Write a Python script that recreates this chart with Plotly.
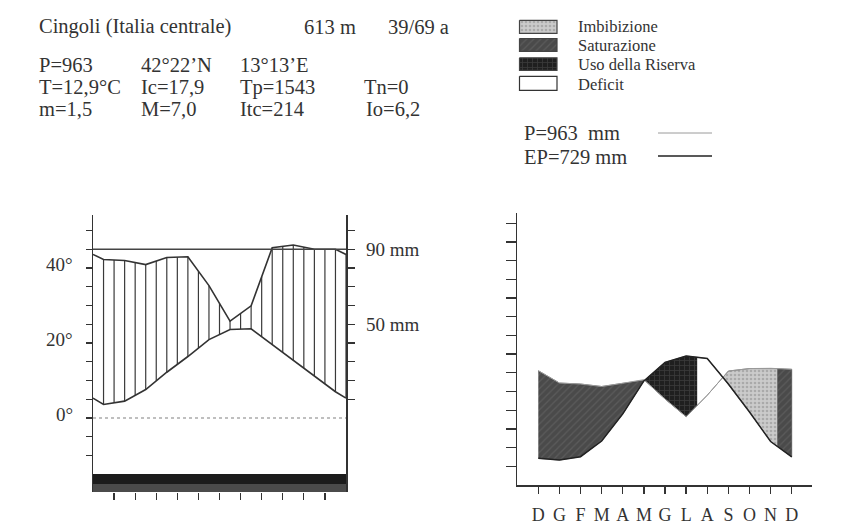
import numpy as np
import plotly.graph_objects as go

W, H = 857, 527
SERIF = "Liberation Serif"
INK = "#333333"

# ---------------- data: Walter-Lieth diagram (left) ----------------
mesi = ["G", "F", "M", "A", "M", "G", "L", "A", "S", "O", "N", "D"]
temperatura = [3.6, 4.5, 7.6, 12.2, 16.4, 20.9, 23.6, 23.8, 19.6, 15.4, 11.2, 7.0]      # °C
precipitazioni = [84.5, 84.0, 81.8, 85.6, 86.0, 70.6, 51.7, 59.8, 90.8, 92.3, 90.0, 90.0]  # mm
temp_ticks = [40, 20, 0]
prec_ticks = [90, 50]

# ---------------- data: water balance (right) ----------------
mesi_bilancio = ["D", "G", "F", "M", "A", "M", "G", "L", "A", "S", "O", "N", "D"]
P_bilancio = [91.7, 81.8, 81.0, 79.0, 81.6, 84.5, 69.0, 54.8, 72.0, 91.4, 93.4, 93.6, 92.8]
EP_bilancio = [21.4, 20.0, 22.7, 35.3, 57.0, 83.5, 98.4, 103.5, 101.5, 81.0, 58.6, 34.9, 22.5]
fine_riserva = 7.53      # month index where soil reserve is exhausted
fine_imbibizione = 11.33  # month index where recharge is complete

# ---------------- helpers ----------------
def px(x):
    return x / W

def py(y):
    return 1 - y / H

fig = go.Figure()

# ===== left chart =====
x_mid = np.arange(12) + 0.5
t_edge = (temperatura[0] + temperatura[-1]) / 2
p_edge = (precipitazioni[0] + precipitazioni[-1]) / 2
x_ext = np.concatenate([[0.0], x_mid, [12.0]])
T_ext = np.array([t_edge] + temperatura + [t_edge])
P_ext = np.array([p_edge] + precipitazioni + [p_edge])

# frost bar (whole year)
fig.add_trace(go.Bar(x=x_mid, y=[-2.6] * 12, base=-15.05, width=1.0,
                     marker=dict(color="#1c1c1c", line=dict(width=0)),
                     xaxis="x", yaxis="y", hoverinfo="skip"))
fig.add_trace(go.Bar(x=x_mid, y=[-2.45] * 12, base=-17.65, width=1.0,
                     marker=dict(color="#4b4b4b", line=dict(width=0)),
                     xaxis="x", yaxis="y", hoverinfo="skip"))

# vertical hatching (humid period), every half month
xh = np.arange(1, 25) * 0.5
th = np.interp(xh, x_ext, T_ext)
ph = np.interp(xh, x_ext, P_ext) / 2.0
hx, hy = [], []
for a, b, c in zip(xh, th, ph):
    hx += [a, a, None]
    hy += [b, c, None]
fig.add_trace(go.Scatter(x=hx, y=hy, mode="lines", line=dict(color="#3a3a3a", width=1.2),
                         xaxis="x", yaxis="y", hoverinfo="skip"))

fig.add_trace(go.Scatter(x=x_ext, y=T_ext, mode="lines", line=dict(color=INK, width=1.6),
                         xaxis="x", yaxis="y"))
fig.add_trace(go.Scatter(x=x_ext, y=P_ext, mode="lines", line=dict(color=INK, width=1.6),
                         xaxis="x", yaxis="y2"))

# ===== right chart =====
xb = np.arange(13)
Pb = np.array(P_bilancio)
Eb = np.array(EP_bilancio)

def crossing(lo, hi):
    d = Pb - Eb
    for i in range(12):
        if xb[i + 1] <= lo or xb[i] >= hi:
            continue
        if d[i] * d[i + 1] < 0:
            return xb[i] + d[i] / (d[i] - d[i + 1])
    return lo

c1 = crossing(4.5, 6)
c2 = crossing(8, 9)

def region(a, b, top, bottom):
    xs = [a] + [float(v) for v in xb if a < v < b] + [b]
    xs = np.array(xs)
    up = np.interp(xs, xb, top)
    lo = np.interp(xs, xb, bottom)
    return list(xs) + list(xs[::-1]), list(up) + list(lo[::-1])

styles = {
    "sat": dict(fillcolor="#4e4e4e",
                fillpattern=dict(shape="/", fgcolor="#6c6c6c", bgcolor="#4a4a4a", size=5, solidity=0.25)),
    "ris": dict(fillcolor="#222222",
                fillpattern=dict(shape="+", fgcolor="#555555", bgcolor="#1f1f1f", size=5, solidity=0.3)),
    "imb": dict(fillcolor="#c4c4c4",
                fillpattern=dict(shape=".", fgcolor="#8a8a8a", bgcolor="#cbcbcb", size=4, solidity=0.35)),
    "def": dict(fillcolor="#ffffff"),
}
regions = [
    (0, c1, Pb, Eb, "sat"),
    (c1, fine_riserva, Eb, Pb, "ris"),
    (fine_riserva, c2, Eb, Pb, "def"),
    (c2, fine_imbibizione, Pb, Eb, "imb"),
    (fine_imbibizione, 12, Pb, Eb, "sat"),
]
for a, b, top, bot, key in regions:
    rx, ry = region(a, b, top, bot)
    fig.add_trace(go.Scatter(x=rx, y=ry, mode="lines", fill="toself", line=dict(width=0.6, color="#444"),
                             xaxis="x3", yaxis="y3", hoverinfo="skip", **styles[key]))

fig.add_trace(go.Scatter(x=xb, y=Pb, mode="lines", line=dict(color="#9a9a9a", width=1),
                         xaxis="x3", yaxis="y3"))
fig.add_trace(go.Scatter(x=xb, y=Eb, mode="lines", line=dict(color="#222222", width=1.5),
                         xaxis="x3", yaxis="y3"))

# ===== legend (overlay axis in page pixels) =====
leg_boxes = [(20.3, 33.3, "imb"), (38.5, 51.3, "sat"), (57.8, 70.3, "ris"), (76.3, 90.3, "def")]
for y0, y1, key in leg_boxes:
    fig.add_trace(go.Scatter(x=[519.5, 557, 557, 519.5, 519.5], y=[y0, y0, y1, y1, y0],
                             mode="lines", fill="toself",
                             line=dict(color="#444" if key != "def" else "#333", width=1.2),
                             xaxis="x5", yaxis="y5", hoverinfo="skip", **styles[key]))
fig.add_trace(go.Scatter(x=[658, 712], y=[133, 133], mode="lines",
                         line=dict(color="#9a9a9a", width=1), xaxis="x5", yaxis="y5"))
fig.add_trace(go.Scatter(x=[658, 712], y=[156, 156], mode="lines",
                         line=dict(color="#222", width=1.6), xaxis="x5", yaxis="y5"))

# ---------------- axes ----------------
t_lo, t_hi = (418 - 492) / 3.75, (418 - 215) / 3.75
common = dict(showgrid=False, zeroline=False, tickcolor=INK, linecolor=INK)
fig.update_layout(
    width=W, height=H, margin=dict(l=0, r=0, t=0, b=0),
    paper_bgcolor="white", plot_bgcolor="rgba(0,0,0,0)",
    showlegend=False, barmode="overlay", bargap=0,
    xaxis=dict(domain=[px(93), px(346)], range=[0, 12], anchor="y",
               tickvals=list(range(1, 12)), ticks="outside", ticklen=7, tickwidth=1.3,
               showticklabels=False, showline=False, **common),
    yaxis=dict(domain=[py(492), py(215)], range=[t_lo, t_hi], anchor="x",
               tickvals=list(range(-10, 55, 5)), ticks="outside", ticklen=6, tickwidth=1.3,
               showticklabels=False, showline=True, linewidth=1.5, **common),
    yaxis2=dict(overlaying="y", side="right", anchor="x", range=[2 * t_lo, 2 * t_hi],
                tickvals=list(range(10, 101, 10)), ticks="outside", ticklen=7, tickwidth=1.3,
                showticklabels=False, showline=True, linewidth=1.5, **common),
    xaxis3=dict(domain=[px(517), px(812)], range=[(517 - 538.3) / 21.12, (812 - 538.3) / 21.12],
                anchor="y3", tickvals=list(range(13)), ticktext=mesi_bilancio,
                ticks="outside", ticklen=7, tickwidth=1.3, showline=True, linewidth=1.5,
                tickfont=dict(family=SERIF, size=18, color=INK), ticklabelstandoff=6, **common),
    yaxis3=dict(domain=[py(485), py(213)], range=[0, (485 - 213) * 15 / 18.7], anchor="x3",
                tickvals=list(range(15, 211, 15)), ticks="outside", ticklen=10, tickwidth=1.3,
                showticklabels=False, showline=True, linewidth=1.5, **common),
    yaxis4=dict(overlaying="y3", side="right", anchor="x3", range=[0, (485 - 213) * 15 / 18.7],
                tickvals=list(range(15, 211, 15)), ticks="outside", ticklen=10, tickwidth=1.3,
                showticklabels=False, showline=True, linewidth=1.5, **common),
    xaxis5=dict(domain=[0, 1], range=[0, W], visible=False, fixedrange=True, anchor="y5"),
    yaxis5=dict(domain=[0, 1], range=[H, 0], visible=False, fixedrange=True, anchor="x5"),
)

# reference lines on the left chart
fig.add_shape(type="line", xref="x", yref="y2", x0=0, x1=12, y0=prec_ticks[0], y1=prec_ticks[0],
              line=dict(color="#444", width=1.6))
fig.add_shape(type="line", xref="x", yref="y", x0=0, x1=12, y0=0, y1=0,
              line=dict(color="#aaaaaa", width=1.3, dash="dot"))

# ---------------- text ----------------
def txt(x, y, s, size=20.5, xanchor="left", xref="x5", yref="y5", yshift=0):
    fig.add_annotation(x=x, y=y, text=s, xref=xref, yref=yref, showarrow=False,
                       xanchor=xanchor, yanchor="middle", yshift=yshift,
                       font=dict(family=SERIF, size=size, color=INK))

txt(37, 26.5, "Cingoli (Italia centrale)")
txt(302, 26.5, "613 m")
txt(385.5, 26.5, "39/69 a")
rows = [
    (65, [(37, "P=963"), (139, "42°22’N"), (238, "13°13’E")]),
    (87, [(37, "T=12,9°C"), (139, "Ic=17,9"), (238, "Tp=1543"), (362, "Tn=0")]),
    (109, [(37, "m=1,5"), (139, "M=7,0"), (238, "Itc=214"), (364, "Io=6,2")]),
]
for yy, items in rows:
    for xx, s in items:
        txt(xx, yy, s)

for yy, s in [(26.5, "Imbibizione"), (45, "Saturazione"), (64.5, "Uso della Riserva"), (84, "Deficit")]:
    txt(576, yy, s, size=16.5)
txt(522, 133, "P=963  mm")
txt(522, 156.5, "EP=729 mm")

for v in temp_ticks:
    txt(px(75), v, f"{v}°", size=19, xanchor="right", xref="paper", yref="y", yshift=4)
for v in prec_ticks:
    txt(px(364), v, f"{v} mm", size=19, xref="paper", yref="y2")

fig.write_html("out.html", config={"displayModeBar": False, "staticPlot": True},
               post_script="document.body.style.margin='0px';document.body.style.overflow='hidden';")
